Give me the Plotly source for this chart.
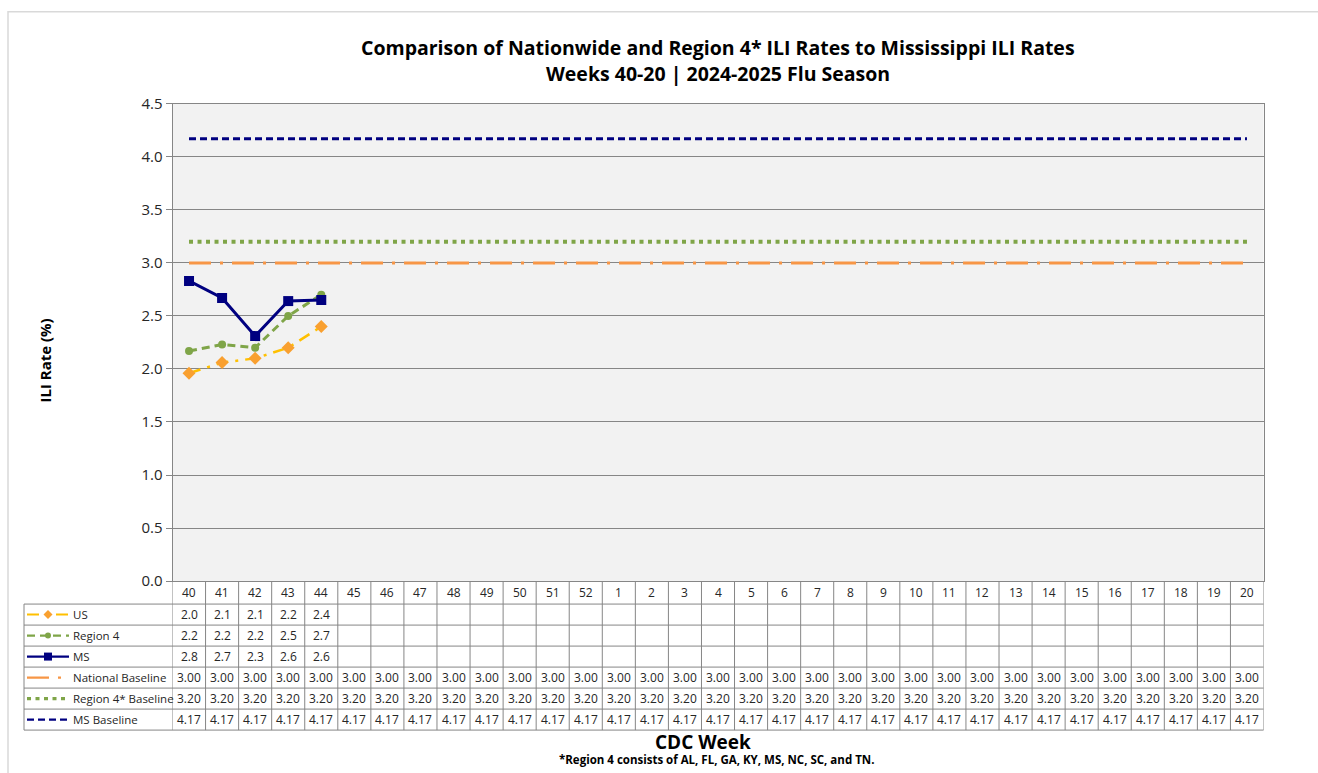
import plotly.graph_objects as go

# ---------------- data ----------------
weeks = ["40", "41", "42", "43", "44", "45", "46", "47", "48", "49", "50", "51", "52",
         "1", "2", "3", "4", "5", "6", "7", "8", "9", "10", "11", "12", "13", "14",
         "15", "16", "17", "18", "19", "20"]
us_values = [1.96, 2.06, 2.10, 2.20, 2.40]
region4_values = [2.17, 2.23, 2.20, 2.50, 2.70]
ms_values = [2.83, 2.67, 2.31, 2.64, 2.65]
national_baseline = [3.00] * len(weeks)
region4_baseline = [3.20] * len(weeks)
ms_baseline = [4.17] * len(weeks)
y_ticks = [0.0, 0.5, 1.0, 1.5, 2.0, 2.5, 3.0, 3.5, 4.0, 4.5]

# ---------------- page geometry ----------------
W, HF = 1318, 773
SY, OY = 0.974, 10.5   # observed vertical mapping of the page into the final picture

FONT = "Open Sans"
TXT = "#262626"
GRID = "#868686"


def fx(x):
    return x / W


def fy(y):
    page_y = (y - OY) / SY
    return 1 - page_y / HF


PL, PR, PT, PB = 172.5, 1263.5, 103.3, 580.5
rows_y = [603.5, 624.5, 645.5, 666.5, 687.5, 708.5, 729.5]
LEG_L = 24

series = [
    dict(name="US", y=us_values, color="#FFC000", dash="12px,7px,3px,7px", width=2.5,
         symbol="diamond", mcolor="#F9A030", msize=10, fmt="{:.1f}"),
    dict(name="Region 4", y=region4_values, color="#7FA548", dash="8px,5px", width=3,
         symbol="circle", mcolor="#7FA548", msize=8, fmt="{:.1f}"),
    dict(name="MS", y=ms_values, color="#000080", dash="solid", width=3,
         symbol="square", mcolor="#000080", msize=10, fmt="{:.1f}"),
    dict(name="National Baseline", y=national_baseline, color="#F79646",
         dash="22px,9px,3px,9px", width=3, symbol=None, fmt="{:.2f}"),
    dict(name="Region 4* Baseline", y=region4_baseline, color="#7FA548",
         dash="4px,4.5px", width=4, symbol=None, fmt="{:.2f}"),
    dict(name="MS Baseline", y=ms_baseline, color="#000080", dash="7px,4px",
         width=3, symbol=None, fmt="{:.2f}"),
]

fig = go.Figure()
for s in series[3:] + series[:3]:
    xs = list(range(len(s["y"])))
    mode = "lines+markers" if s["symbol"] else "lines"
    marker = dict(symbol=s["symbol"], color=s["mcolor"], size=s["msize"]) if s["symbol"] else None
    fig.add_trace(go.Scatter(x=xs, y=s["y"], mode=mode, name=s["name"],
                             line=dict(color=s["color"], width=s["width"], dash=s["dash"]),
                             marker=marker, showlegend=False, hoverinfo="skip"))

shapes = []
annotations = []


def ann(x, y, text, size, xref="paper", xanchor="center", color=TXT, angle=0):
    annotations.append(dict(x=x, y=y, xref=xref, yref="paper", text=text, showarrow=False,
                            xanchor=xanchor, yanchor="middle", textangle=angle, borderpad=0,
                            font=dict(family=FONT, size=size, color=color)))


# outer chart border
shapes.append(dict(type="rect", xref="paper", yref="paper", x0=fx(8), x1=fx(1330),
                   y0=-0.05, y1=fy(11.2), line=dict(color="#d9d9d9", width=1.5)))

top_hdr = PB
for i in range(len(weeks) + 1):
    shapes.append(dict(type="line", xref="x", yref="paper", x0=i - 0.5, x1=i - 0.5,
                       y0=fy(top_hdr), y1=fy(rows_y[-1]), line=dict(color=GRID, width=1)))
shapes.append(dict(type="line", xref="paper", yref="paper", x0=fx(LEG_L), x1=fx(LEG_L),
                   y0=fy(rows_y[0]), y1=fy(rows_y[-1]), line=dict(color=GRID, width=1)))
for yy in rows_y:
    shapes.append(dict(type="line", xref="paper", yref="paper", x0=fx(LEG_L), x1=fx(PR),
                       y0=fy(yy), y1=fy(yy), line=dict(color=GRID, width=1)))

for i, w in enumerate(weeks):
    ann(i, fy((top_hdr + rows_y[0]) / 2), w, 12, xref="x")

for r, s in enumerate(series):
    yc = (rows_y[r] + rows_y[r + 1]) / 2
    for i, v in enumerate(s["y"]):
        ann(i, fy(yc), s["fmt"].format(v), 12, xref="x")
    ann(fx(72), fy(yc), s["name"], 11.5, xanchor="left")
    shapes.append(dict(type="line", xref="paper", yref="paper", x0=fx(27), x1=fx(69),
                       y0=fy(yc), y1=fy(yc),
                       line=dict(color=s["color"], width=s["width"] * 0.8, dash=s["dash"])))
    if s["symbol"] == "square":
        shapes.append(dict(type="rect", xref="paper", yref="paper", x0=fx(44), x1=fx(52),
                           y0=fy(yc + 4), y1=fy(yc - 4), fillcolor=s["mcolor"], line=dict(width=0)))
    elif s["symbol"] == "circle":
        shapes.append(dict(type="circle", xref="paper", yref="paper", x0=fx(45), x1=fx(51),
                           y0=fy(yc + 3), y1=fy(yc - 3), fillcolor=s["mcolor"], line=dict(width=0)))
    elif s["symbol"] == "diamond":
        path = "M {} {} L {} {} L {} {} L {} {} Z".format(
            fx(48), fy(yc - 4.5), fx(52.5), fy(yc), fx(48), fy(yc + 4.5), fx(43.5), fy(yc))
        shapes.append(dict(type="path", xref="paper", yref="paper", path=path,
                           fillcolor=s["mcolor"], line=dict(width=0)))

ann(fx(718), fy(47), "<b>Comparison of Nationwide and Region 4* ILI Rates to Mississippi ILI Rates</b>",
    19.5, color="#000000")
ann(fx(718), fy(73), "<b>Weeks 40-20 | 2024-2025 Flu Season</b>", 19.5, color="#000000")
ann(fx(703), fy(741), "<b>CDC Week</b>", 19, color="#000000")
ann(fx(717), fy(759), "<b>*Region 4 consists of AL, FL, GA, KY, MS, NC, SC, and TN.</b>",
    11.5, color="#000000")
ann(fx(45), fy(360), "<b>ILI Rate (%)</b>", 15, color="#000000", angle=-90)

fig.update_layout(
    width=W, height=HF,
    margin=dict(l=0, r=0, t=0, b=0),
    paper_bgcolor="white",
    plot_bgcolor="#f2f2f2",
    showlegend=False,
    shapes=shapes,
    annotations=annotations,
    xaxis=dict(domain=[fx(PL), fx(PR)], range=[-0.5, len(weeks) - 0.5],
               showticklabels=False, showgrid=False, zeroline=False, ticks="",
               showline=True, mirror=True, linecolor=GRID, linewidth=1),
    yaxis=dict(domain=[fy(PB), fy(PT)], range=[0, 4.5], tickvals=y_ticks,
               ticktext=["{:.1f}".format(t) for t in y_ticks],
               showgrid=True, gridcolor=GRID, gridwidth=1, zeroline=False,
               ticks="outside", ticklen=6, tickcolor=GRID,
               showline=True, mirror=True, linecolor=GRID, linewidth=1,
               tickfont=dict(family=FONT, size=15, color=TXT)),
)

# pin the figure to the top-left corner of the window (no page margins / scrolling)
post_js = """
document.documentElement.style.margin='0';
document.documentElement.style.overflow='hidden';
document.body.style.margin='0';
document.body.style.overflow='hidden';
var gd = document.getElementById('{plot_id}');
gd.style.position='fixed';
gd.style.left='0px';
gd.style.top='0px';
"""

fig.write_html("out.html", post_script=post_js, config={"displayModeBar": False})
